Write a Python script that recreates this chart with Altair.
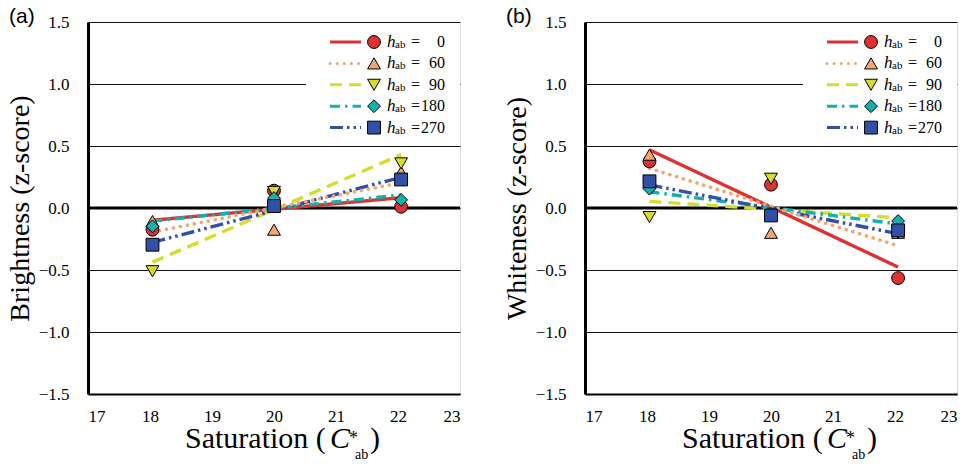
import altair as alt
import pandas as pd

# Saturation levels (C*ab) of the three stimuli
saturation = [18.04, 20.0, 22.05]

# Hue angles and their drawing styles
hue_angles = [0, 60, 90, 180, 270]
hue_labels = ["0", "60", "90", "180", "270"]
colors = ["#DC3232", "#F4A574", "#D6DC2C", "#17AFAB", "#3150A6"]
shapes = ["circle", "triangle-up", "triangle-down", "diamond", "square"]
dashes = [[1, 0], [0.1, 7], [12, 7], [10, 5, 2.5, 5], [13, 4, 2.5, 4, 2.5, 4]]

# Brightness z-scores per hue (at 18, 20, 22)
bright_h0 = [-0.175, 0.14, 0.01]
bright_h60 = [-0.105, -0.175, 0.29]
bright_h90 = [-0.51, 0.13, 0.36]
bright_h180 = [-0.148, 0.08, 0.065]
bright_h270 = [-0.296, 0.016, 0.23]

# Whiteness z-scores per hue (at 18, 20, 22)
white_h0 = [0.376, 0.188, -0.565]
white_h60 = [0.43, -0.2, -0.2]
white_h90 = [-0.073, 0.236, -0.2]
white_h180 = [0.156, -0.046, -0.105]
white_h270 = [0.215, -0.06, -0.18]

y_ticks = [-1.5, -1.0, -0.5, 0.0, 0.5, 1.0, 1.5]
x_ticks = [17, 18, 19, 20, 21, 22, 23]

SERIF = "Liberation Serif"
SANS = "Liberation Sans"
W = 372
H = 372
Y_DOMAIN = [-1.5, 1.5]


def long_table(series):
    rows = []
    for hue, vals in zip(hue_angles, series):
        for s, z in zip(saturation, vals):
            rows.append({"sat": s, "z": z, "hue": hue})
    return pd.DataFrame(rows)


def one_row():
    return pd.DataFrame({"k": [0]})


def label(s, x, y, size, italic=False, align="left", font=SERIF, baseline="alphabetic"):
    props = dict(font=font, fontSize=size, align=align, baseline=baseline, color="black")
    if italic:
        props["fontStyle"] = "italic"
    return (
        alt.Chart(one_row())
        .mark_text(**props)
        .encode(x=alt.value(x), y=alt.value(y), text=alt.value(s))
    )


x_axis = alt.Axis(
    values=x_ticks, title=None, grid=False, ticks=False,
    domainColor="black", domainWidth=2,
    labelFont=SERIF, labelFontSize=17, labelColor="black", labelPadding=14,
)
x_enc = alt.X("sat:Q", scale=alt.Scale(domain=[17, 23], nice=False, zero=False), axis=x_axis)

shape_enc = alt.Shape("hue:N", scale=alt.Scale(domain=hue_angles, range=shapes), legend=None)
fill_enc = alt.Fill("hue:N", scale=alt.Scale(domain=hue_angles, range=colors), legend=None)
color_enc = alt.Color("hue:N", scale=alt.Scale(domain=hue_angles, range=colors), legend=None)
dash_enc = alt.StrokeDash("hue:N", scale=alt.Scale(domain=hue_angles, range=dashes), legend=None)


def panel(series, y_title, tag):
    df = long_table(series)
    legend_df = pd.DataFrame({"hue": hue_angles, "label": hue_labels})

    y_axis = alt.Axis(
        values=y_ticks, ticks=False, grid=True, gridColor="#111111",
        gridWidth=1, gridOpacity=1, domainColor="black", domainWidth=3,
        format=".1f",
        labelFont=SERIF, labelFontSize=17, labelColor="black", labelPadding=19,
        title=y_title, titleFont=SERIF, titleFontSize=28,
        titleFontWeight="normal", titleColor="black",
    )

    def y_for(field):
        return alt.Y(field + ":Q", scale=alt.Scale(domain=Y_DOMAIN, nice=False, zero=False), axis=y_axis)

    layers = []
    # thick zero line
    layers.append(
        alt.Chart(pd.DataFrame({"z": [0.0]}))
        .mark_rule(color="black", strokeWidth=3)
        .encode(y=y_for("z"))
    )
    # regression lines (dotted orange drawn on its own for round caps)
    layers.append(
        alt.Chart(df)
        .transform_filter(alt.datum.hue != 60)
        .transform_regression("sat", "z", groupby=["hue"])
        .mark_line(strokeWidth=3.4)
        .encode(x=x_enc, y=y_for("z"), color=color_enc, strokeDash=dash_enc)
    )
    layers.append(
        alt.Chart(df)
        .transform_filter(alt.datum.hue == 60)
        .transform_regression("sat", "z")
        .mark_line(color=colors[1], strokeWidth=3.6, strokeDash=dashes[1], strokeCap="round")
        .encode(x=x_enc, y=y_for("z"))
    )
    # observed scores
    layers.append(
        alt.Chart(df)
        .mark_point(filled=True, stroke="black", strokeWidth=1, size=165, opacity=1)
        .encode(x=x_enc, y=y_for("z"), shape=shape_enc, fill=fill_enc)
    )

    # legend box
    layers.append(
        alt.Chart(one_row())
        .mark_rect(fill="white")
        .encode(x=alt.value(218), x2=alt.value(W), y=alt.value(5), y2=alt.value(117))
    )
    # legend rows, stacked 21.4 px apart from the top of the plot
    leg = (
        alt.Chart(legend_df)
        .transform_window(idx="row_number()")
        .transform_calculate(ly="1.5 - (20 + 21.4 * (datum.idx - 1)) / 124")
    )
    layers.append(
        leg.transform_filter(alt.datum.hue != 60)
        .mark_rule(strokeWidth=3)
        .encode(x=alt.value(242), x2=alt.value(273), y=y_for("ly"), color=color_enc, strokeDash=dash_enc)
    )
    layers.append(
        leg.transform_filter(alt.datum.hue == 60)
        .mark_rule(color=colors[1], strokeWidth=3, strokeDash=dashes[1], strokeCap="round")
        .encode(x=alt.value(242), x2=alt.value(273), y=y_for("ly"))
    )
    layers.append(
        leg.mark_point(filled=True, stroke="black", strokeWidth=1, size=165, opacity=1)
        .encode(x=alt.value(286), y=y_for("ly"), shape=shape_enc, fill=fill_enc)
    )
    layers.append(
        leg.mark_text(font=SERIF, fontStyle="italic", fontSize=17, align="left",
                      baseline="alphabetic", dy=5, color="black")
        .encode(x=alt.value(299), y=y_for("ly"), text=alt.value("h"))
    )
    layers.append(
        leg.mark_text(font=SERIF, fontSize=11, align="left", baseline="alphabetic", dy=6, color="black")
        .encode(x=alt.value(307), y=y_for("ly"), text=alt.value("ab"))
    )
    layers.append(
        leg.mark_text(font=SERIF, fontSize=16, align="left", baseline="alphabetic", dy=5, color="black")
        .encode(x=alt.value(323), y=y_for("ly"), text=alt.value("="))
    )
    layers.append(
        leg.mark_text(font=SERIF, fontSize=16, align="right", baseline="alphabetic", dy=5, color="black")
        .encode(x=alt.value(357), y=y_for("ly"), text=alt.Text("label:N"))
    )

    # x-axis title: Saturation (C*ab)
    layers.append(label("Saturation (", 97, 426, 30))
    layers.append(label("C", 242, 426, 30, italic=True))
    layers.append(label("*", 261, 422, 18))
    layers.append(label("ab", 267, 437, 14))
    layers.append(label(")", 282, 426, 30))

    # panel tag
    layers.append(label(tag, -79, -5, 21, font=SANS, baseline="middle"))

    return alt.layer(*layers).properties(width=W, height=H)


brightness = [bright_h0, bright_h60, bright_h90, bright_h180, bright_h270]
whiteness = [white_h0, white_h60, white_h90, white_h180, white_h270]

chart = alt.hconcat(
    panel(brightness, "Brightness (z-score)", "(a)"),
    panel(whiteness, "Whiteness (z-score)", "(b)"),
    spacing=40,
)

chart.save("out.html", embed_options={"renderer": "svg", "actions": False})
